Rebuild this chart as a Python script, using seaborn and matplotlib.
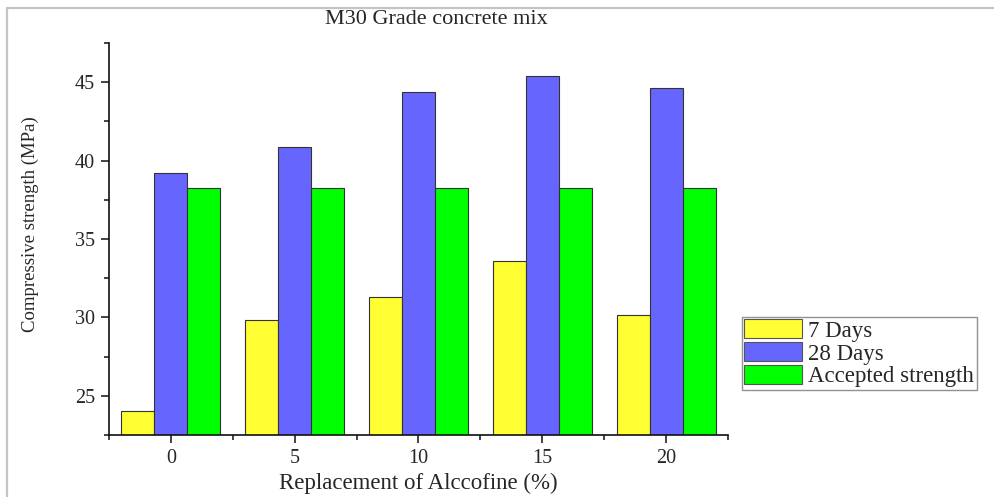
import matplotlib
matplotlib.use("Agg")
import matplotlib.pyplot as plt
from matplotlib.patches import Rectangle, Patch
from matplotlib.ticker import FixedLocator
import pandas as pd
import seaborn as sns

# data
replacement = ["0", "5", "10", "15", "20"]
days_7 = [24.05, 29.83, 31.28, 33.58, 30.15]
days_28 = [39.21, 40.87, 44.38, 45.42, 44.62]
accepted = [38.23, 38.23, 38.23, 38.23, 38.23]
series_names = ["7 Days", "28 Days", "Accepted strength"]
series_colors = ["#FFFF33", "#6666FF", "#00FF00"]

df = pd.DataFrame({
    "replacement": replacement * 3,
    "strength": days_7 + days_28 + accepted,
    "series": [s for s in series_names for _ in replacement],
})

sns.set_theme(style="ticks")
plt.rcParams["font.family"] = ["Liberation Serif", "DejaVu Serif"]

fig = plt.figure(figsize=(9.95, 4.97), dpi=100)
ax = fig.add_axes([109 / 995, 1 - 435 / 497, 619 / 995, 392 / 497])

sns.barplot(data=df, x="replacement", y="strength", hue="series",
            palette=series_colors, width=0.8, gap=0, edgecolor="#333333",
            linewidth=0.8, saturation=1, legend=False, ax=ax)

ax.set_ylim(22.5, 47.5)
ax.set_xlim(-0.5, 4.5)
ax.yaxis.set_major_locator(FixedLocator([25, 30, 35, 40, 45]))
ax.yaxis.set_minor_locator(FixedLocator([22.5, 27.5, 32.5, 37.5, 42.5, 47.5]))
ax.xaxis.set_minor_locator(FixedLocator([-0.5, 0.5, 1.5, 2.5, 3.5, 4.5]))
ax.set_xlabel("")
ax.set_ylabel("")
sns.despine(ax=ax)
for sp in ["left", "bottom"]:
    ax.spines[sp].set_linewidth(1.2)
    ax.spines[sp].set_color("#111111")
ax.tick_params(axis="both", which="major", length=6, width=1.1, color="#111111",
               labelsize=14.5, pad=4, direction="out")
ax.tick_params(axis="both", which="minor", length=3.5, width=1.1, color="#111111",
               direction="out")

fig.text(436 / 995, 1 - 20 / 497, "M30 Grade concrete mix", ha="center", va="center",
         fontsize=16)
fig.text(418 / 995, 1 - 483 / 497, "Replacement of Alccofine (%)", ha="center",
         va="center", fontsize=16.5)
fig.text(30 / 995, 1 - 224 / 497, "Compressive strength (MPa)", ha="center",
         va="center", rotation=90, fontsize=13.5)

handles = [Patch(facecolor=c, edgecolor="#555555", linewidth=0.8) for c in series_colors]
leg = fig.legend(handles, series_names, loc="upper left",
                 bbox_to_anchor=(742 / 995, 1 - 317 / 497), fontsize=16.5,
                 frameon=True, fancybox=False, borderpad=0.1, labelspacing=0.02,
                 handlelength=2.5, handleheight=0.9, handletextpad=0.3,
                 borderaxespad=0)
leg.get_frame().set_edgecolor("#777777")
leg.get_frame().set_linewidth(1.0)

fig.patches.append(Rectangle((7 / 995, -0.05), 1.2, 1 - 8 / 497 + 0.05,
                             transform=fig.transFigure, fill=False,
                             edgecolor="#c4c4c4", linewidth=1.6))

fig.savefig("out.png", dpi=100)
